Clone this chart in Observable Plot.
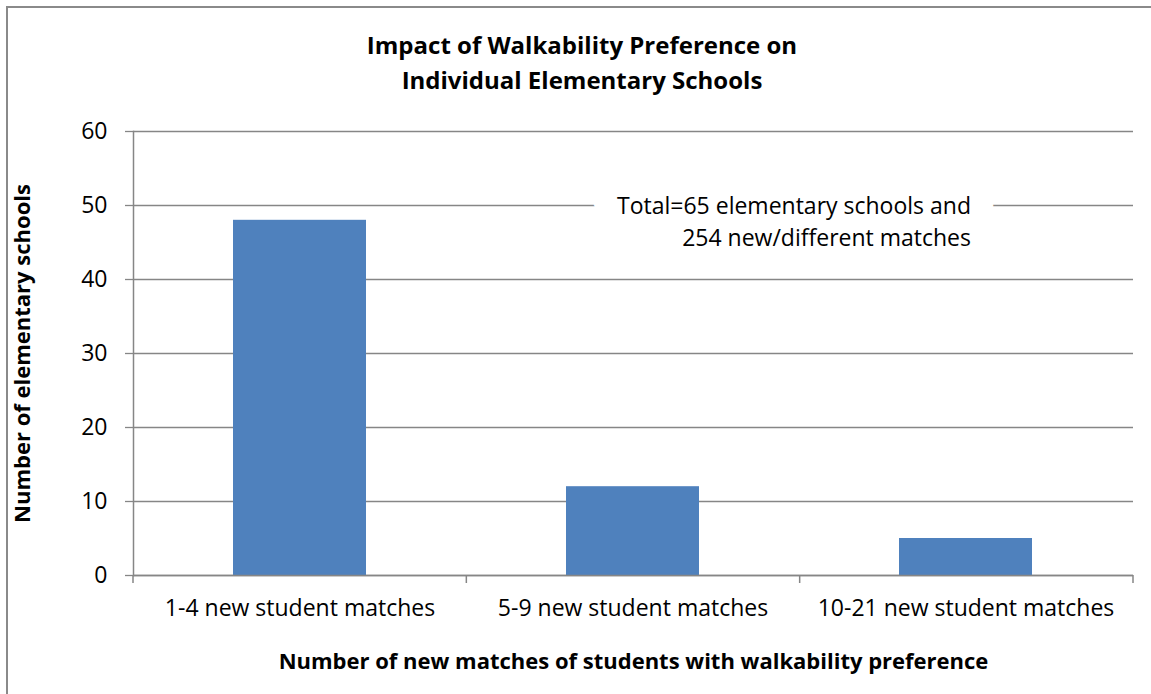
<!DOCTYPE html>
<html>
<head>
<meta charset="utf-8">
<script src="https://cdn.jsdelivr.net/npm/d3@7"></script>
<script src="https://cdn.jsdelivr.net/npm/@observablehq/plot@0.6"></script>
<style>
  html, body { margin: 0; padding: 0; background: #fff; overflow: hidden; }
  #wrap { position: relative; width: 1151px; height: 694px; overflow: hidden; }
  #border { position: absolute; left: 6px; top: 6px; width: 1300px; height: 900px; border: 2px solid #8a8a8a; box-sizing: border-box; }
  #title { position: absolute; left: 0; width: 1164px; top: 27px; text-align: center; font-family: "Open Sans", sans-serif; font-weight: bold; font-size: 24px; line-height: 35px; color: #000; }
  #chart { position: absolute; left: 0; top: 0; }
</style>
</head>
<body>
<div id="wrap">
  <div id="border"></div>
  <div id="chart"></div>
  <div id="title">Impact of Walkability Preference on<br>Individual Elementary Schools</div>
</div>
<script>
const categories = ["1-4 new student matches", "5-9 new student matches", "10-21 new student matches"];
const schools = [48, 12, 5];
const yTicks = [0, 10, 20, 30, 40, 50, 60];
const yLabel = "Number of elementary schools";
const xLabel = "Number of new matches of students with walkability preference";
const annotation = "Total=65 elementary schools and\n254 new/different matches";

const data = categories.map((c, i) => ({category: c, schools: schools[i]}));
const gray = "#868686";

// category boundary tick marks along the x axis (Excel style)
function boundaryTicks(index, scales, values, dims) {
  const n = categories.length;
  const x0 = dims.marginLeft, x1 = dims.width - dims.marginRight;
  const bounds = d3.range(n + 1).map(k => x0 + k * (x1 - x0) / n);
  const y0 = scales.y(0);
  const g = d3.create("svg:g");
  g.selectAll("line").data(bounds).join("line")
    .attr("x1", d => d).attr("x2", d => d)
    .attr("y1", y0).attr("y2", y0 + 8)
    .attr("stroke", gray).attr("stroke-width", 1.5);
  return g.node();
}

const annoOpts = {
  x: () => categories[2], y: () => 50, text: d => d,
  textAnchor: "end", lineAnchor: "top", dx: 5, dy: -14, lineHeight: 1.38,
  fontSize: 23
};

const chart = Plot.plot({
  width: 1151,
  height: 694,
  marginLeft: 133,
  marginRight: 18,
  marginTop: 131,
  marginBottom: 119,
  style: {fontFamily: "Open Sans, sans-serif", fontSize: "23px", color: "#000", background: "transparent"},
  x: {domain: categories, paddingInner: 0.6, paddingOuter: 0.3, axis: null},
  y: {domain: [0, 60], axis: null},
  marks: [
    Plot.gridY(yTicks, {stroke: gray, strokeOpacity: 1, strokeWidth: 1.3}),
    Plot.text([annotation], {...annoOpts, fill: "white", stroke: "white", strokeWidth: 48, strokeLinejoin: "round"}),
    Plot.barY(data, {x: "category", y: "schools", fill: "#4F81BD"}),
    Plot.ruleY([0], {stroke: gray, strokeWidth: 1.5}),
    Plot.frame({anchor: "left", stroke: gray, strokeWidth: 1.5}),
    Plot.axisY(yTicks, {tickSize: 8, tickPadding: 18, stroke: gray, fill: "#000", fontSize: 23, label: null, strokeWidth: 1.3}),
    boundaryTicks,
    Plot.axisX({tickSize: 0, tickPadding: 24, fontSize: 23, fill: "#000", label: null}),
    Plot.text([annotation], {...annoOpts, fill: "#000"}),
    Plot.text([yLabel], {frameAnchor: "left", rotate: -90, dx: -111, textAnchor: "middle", lineAnchor: "middle", text: d => d, fontWeight: "bold", fontSize: 22, fill: "#000"}),
    Plot.text([xLabel], {frameAnchor: "bottom", dy: 86, textAnchor: "middle", lineAnchor: "middle", text: d => d, fontWeight: "bold", fontSize: 22, fill: "#000"})
  ]
});
document.getElementById("chart").appendChild(chart);
</script>
</body>
</html>
